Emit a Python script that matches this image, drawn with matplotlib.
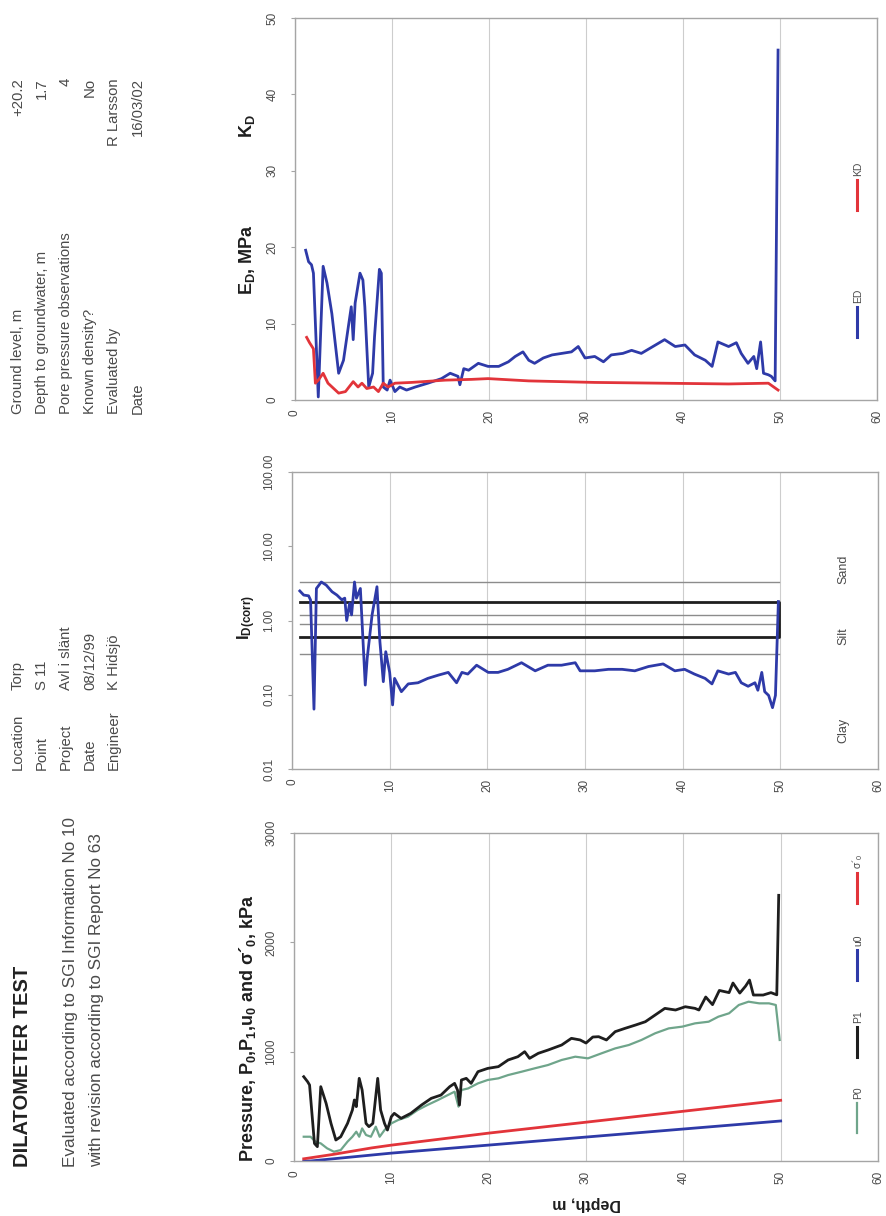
import matplotlib
matplotlib.use('Agg')
import matplotlib.pyplot as plt
from matplotlib.lines import Line2D

plt.rcParams['font.family'] = ['Liberation Sans', 'DejaVu Sans']
plt.rcParams['mathtext.fontset'] = 'custom'
plt.rcParams['mathtext.rm'] = 'Liberation Sans'
plt.rcParams['mathtext.bf'] = 'Liberation Sans:bold'
plt.rcParams['mathtext.it'] = 'Liberation Sans:italic'

# --- data (depth in m) ---
ed_depth = [1.1, 1.4, 1.7, 1.9, 2.4, 2.9, 3.3, 3.8, 4.5, 5.0, 5.5, 5.8, 6.0, 6.2, 6.7,
            7.0, 7.2, 7.6, 8.0, 8.2, 8.7, 8.9, 9.1, 9.5, 9.8, 10.3, 10.8, 11.5, 12.4, 13.7,
            15.1, 16.0, 16.8, 17.0, 17.4, 17.9, 18.9, 19.9, 21.0, 22.0, 22.7, 23.5, 24.1, 24.7, 25.6,
            26.5, 27.5, 28.5, 29.2, 29.9, 30.9, 31.8, 32.6, 33.8, 34.7, 35.7, 36.9, 38.1, 39.2, 40.2,
            41.2, 42.3, 43.0, 43.6, 44.7, 45.5, 46.0, 46.7, 47.3, 47.6, 48.0, 48.3, 48.8, 49.1, 49.5, 49.8]
ed_val = [19.6, 18.1, 17.7, 16.6, 0.4, 17.5, 15.3, 11.3, 3.5, 5.2, 9.6, 12.2, 7.9, 12.7, 16.6,
          15.7, 12.2, 1.7, 3.5, 8.3, 17.1, 16.6, 1.7, 1.3, 2.6, 1.1, 1.7, 1.3, 1.7, 2.2,
          2.8, 3.5, 3.1, 2.0, 4.1, 3.9, 4.8, 4.4, 4.4, 5.0, 5.7, 6.3, 5.2, 4.8, 5.5,
          5.9, 6.1, 6.3, 7.0, 5.5, 5.7, 5.0, 5.9, 6.1, 6.5, 6.1, 7.0, 7.9, 7.0, 7.2,
          5.9, 5.2, 4.4, 7.6, 7.0, 7.5, 6.1, 4.8, 5.7, 4.1, 7.6, 3.5, 3.3, 3.1, 2.5, 45.8]

kd_depth = [1.2, 1.5, 1.9, 2.1, 2.4, 2.9, 3.4, 4.5, 5.2, 6.0, 6.5, 6.9, 7.4, 8.1, 8.6,
            9.1, 9.6, 10.3, 12.0, 15.5, 18.2, 19.9, 24.1, 30.9, 37.8, 44.7, 48.8, 49.8]
kd_val = [8.2, 7.5, 6.7, 2.2, 2.6, 3.5, 2.2, 0.9, 1.1, 2.4, 1.7, 2.2, 1.5, 1.7, 1.1,
          2.2, 1.7, 2.2, 2.3, 2.6, 2.7, 2.8, 2.5, 2.3, 2.2, 2.1, 2.2, 1.3]

id_depth = [0.8, 1.2, 1.7, 1.9, 2.25, 2.5, 3.0, 3.5, 4.1, 4.6, 5.1, 5.4, 5.6, 5.9, 6.1,
            6.4, 6.6, 7.0, 7.5, 7.7, 8.2, 8.7, 9.0, 9.35, 9.6, 10.0, 10.3, 10.5, 11.2, 11.9,
            12.9, 13.9, 15.0, 16.0, 16.85, 17.4, 18.0, 18.9, 20.1, 21.1, 22.1, 23.5, 24.9, 26.2, 27.6,
            29.0, 29.5, 31.0, 32.4, 33.8, 35.1, 36.5, 38.0, 39.2, 40.2, 41.2, 42.3, 43.0, 43.6, 44.7,
            45.4, 46.0, 46.7, 47.4, 47.7, 48.1, 48.4, 48.8, 49.2, 49.5, 49.8]
id_val = [2.5, 2.2, 2.15, 1.89, 0.064, 2.7, 3.3, 3.0, 2.44, 2.2, 1.9, 2.0, 1.0, 1.7, 1.19,
          3.3, 2.0, 2.7, 0.135, 0.31, 1.19, 2.85, 0.52, 0.15, 0.38, 0.2, 0.073, 0.166, 0.11, 0.14,
          0.145, 0.166, 0.184, 0.2, 0.145, 0.2, 0.19, 0.25, 0.2, 0.2, 0.22, 0.27, 0.21, 0.25, 0.25,
          0.27, 0.21, 0.21, 0.22, 0.22, 0.21, 0.24, 0.26, 0.21, 0.22, 0.19, 0.166, 0.14, 0.21, 0.19,
          0.2, 0.145, 0.13, 0.145, 0.115, 0.2, 0.11, 0.098, 0.067, 0.098, 1.8]

# soil type boundaries for I_D
bound_depth = [0.8, 49.9]
thin_bounds = [0.35, 0.9, 1.2, 3.3]
thick_bounds = [0.6, 1.8]
soil_names = ['Clay', 'Silt', 'Sand']

p1_depth = [1.0, 1.4, 1.6, 2.1, 2.4, 2.75, 3.3, 3.8, 4.3, 4.8, 5.5, 6.0, 6.2, 6.4, 6.7,
            7.0, 7.4, 7.7, 8.1, 8.6, 8.9, 9.3, 9.6, 10.0, 10.3, 11.0, 12.0, 13.1, 14.1, 15.1,
            16.0, 16.5, 16.8, 17.0, 17.2, 17.7, 18.2, 18.9, 19.9, 21.0, 22.0, 23.0, 23.7, 24.2, 25.1,
            26.1, 27.5, 28.5, 29.4, 30.0, 30.7, 31.3, 32.1, 33.0, 34.0, 35.1, 36.1, 37.1, 38.1, 39.2,
            40.2, 41.2, 41.6, 42.3, 43.0, 43.7, 44.7, 45.1, 45.8, 46.4, 46.8, 47.2, 48.2, 49.0, 49.6, 49.8]
p1_val = [771, 725, 695, 161, 131, 680, 527, 344, 192, 222, 344, 466, 558, 497, 756,
          649, 344, 314, 344, 756, 466, 344, 283, 405, 436, 390, 436, 512, 573, 603,
          680, 710, 649, 512, 741, 756, 710, 817, 847, 863, 924, 954, 1000, 939, 985,
          1015, 1061, 1122, 1107, 1079, 1134, 1137, 1107, 1183, 1213, 1244, 1274, 1335, 1396, 1381,
          1411, 1396, 1381, 1500, 1430, 1560, 1540, 1628, 1536, 1600, 1655, 1518, 1518, 1540, 1520, 2430]

p0_depth = [1.0, 1.7, 2.2, 2.75, 3.4, 4.1, 4.8, 5.5, 6.0, 6.4, 6.7, 7.0, 7.4, 7.9, 8.4,
            8.8, 9.3, 10.0, 10.7, 11.7, 12.7, 13.7, 14.8, 15.8, 16.5, 16.9, 17.2, 17.9, 18.9, 19.9,
            21.0, 22.0, 23.4, 24.7, 26.1, 27.5, 28.9, 30.2, 31.6, 33.0, 34.4, 35.7, 37.1, 38.5, 39.9,
            41.2, 42.6, 43.6, 44.7, 45.7, 46.7, 47.8, 48.8, 49.5, 49.9]
p0_val = [222, 222, 177, 161, 116, 85, 100, 177, 222, 268, 222, 298, 238, 222, 314,
          222, 283, 344, 375, 405, 466, 512, 558, 603, 634, 497, 649, 664, 710, 741,
          756, 786, 817, 847, 878, 924, 954, 939, 985, 1030, 1061, 1107, 1168, 1213, 1229,
          1259, 1274, 1320, 1351, 1427, 1457, 1442, 1442, 1427, 1107]

u0_depth = [1.0, 1.7, 10.0, 50.0]
u0_val = [0, 0, 72, 366]

sig_depth = [1.0, 4.0, 8.0, 10.0, 20.0, 50.0]
sig_val = [20, 60, 120, 145, 255, 555]

info_labels = ['Location', 'Point', 'Project', 'Date', 'Engineer']
info_values = ['Torp', 'S 11', 'Avl i slänt', '08/12/99', 'K Hidsjö']
site_labels = ['Ground level, m', 'Depth to groundwater, m', 'Pore pressure observations',
               'Known density?', 'Evaluated by', 'Date']
site_values = ['+20.2', '1.7', '4', 'No', 'R Larsson', '16/03/02']

C_BLUE = '#2e3aa8'
C_RED = '#e2343a'
C_BLACK = '#1e1e1e'
C_GREEN = '#6fa58b'
C_TXT = '#4a4a4a'

W, H = 886, 1216
fig = plt.figure(figsize=(W / 100, H / 100), dpi=100)


def box(x0, y0, x1, y1):
    # pixel box (top-left origin) -> figure fraction
    return [x0 / W, 1 - y1 / H, (x1 - x0) / W, (y1 - y0) / H]


def ftext(x, y, s, **kw):
    return fig.text(x / W, 1 - y / H, s, **kw)


def vtext(x, y, s, **kw):
    # text rotated 90 deg, starting at (x, y)
    kw.setdefault('ha', 'left')
    return ftext(x, y, s, rotation=90, rotation_mode='anchor', va='center', **kw)


def legend_mark(x, y_top, y_bot, color, label, lw=2.2):
    fig.add_artist(Line2D([x / W, x / W], [1 - y_bot / H, 1 - y_top / H],
                          transform=fig.transFigure, color=color, lw=lw))
    vtext(x + 1, y_top - 4, label, fontsize=7.5, color=C_TXT)


def style_panel(ax):
    ax.set_xlim(0, 60)
    ax.set_xticks(range(0, 61, 10))
    ax.grid(axis='x', color='#cdcdcd', lw=0.8)
    ax.set_axisbelow(True)
    for s in ax.spines.values():
        s.set_color('#a5a5a5')
        s.set_linewidth(1.0)
    ax.tick_params(axis='x', length=0, pad=7, labelsize=8.5, labelcolor=C_TXT, labelrotation=90)
    ax.tick_params(axis='y', which='major', length=3, direction='out', color='#a5a5a5',
                   pad=9, labelsize=8.5, labelcolor=C_TXT, labelrotation=90)
    ax.tick_params(axis='y', which='minor', length=0)
    for lab in ax.get_yticklabels():
        lab.set_va('center')


# --- E_D / K_D panel ---
ax1 = fig.add_axes(box(295, 18, 877, 400))
ax1.plot(ed_depth, ed_val, color=C_BLUE, lw=2.0)
ax1.plot(kd_depth, kd_val, color=C_RED, lw=2.0)
ax1.set_ylim(0, 50)
ax1.set_yticks(range(0, 51, 10))
style_panel(ax1)

# --- I_D panel ---
ax2 = fig.add_axes(box(292, 472, 878, 769))
for b in thin_bounds:
    ax2.plot(bound_depth, [b, b], color='#8c8c8c', lw=1.0)
d0, d1 = bound_depth
lo, hi = thick_bounds
ax2.plot([d0, d1, d1, d0], [hi, hi, lo, lo], color=C_BLACK, lw=2.0)
ax2.plot(id_depth, id_val, color=C_BLUE, lw=2.0)
ax2.set_yscale('log')
ax2.set_ylim(0.01, 100)
ax2.set_yticks([0.01, 0.1, 1, 10, 100])
ax2.set_yticklabels(['0.01', '0.10', '1.00', '10.00', '100.00'])
style_panel(ax2)

# --- pressure panel ---
ax3 = fig.add_axes(box(294, 833, 878, 1161))
ax3.plot(p0_depth, p0_val, color=C_GREEN, lw=1.6)
ax3.plot(p1_depth, p1_val, color=C_BLACK, lw=2.0)
ax3.plot(u0_depth, u0_val, color=C_BLUE, lw=2.0)
ax3.plot(sig_depth, sig_val, color=C_RED, lw=2.0)
ax3.set_ylim(0, 3000)
ax3.set_yticks(range(0, 3001, 1000))
style_panel(ax3)

# --- axis titles ---
vtext(247, 1162, r'Pressure, P$_\mathbf{0}$,P$_\mathbf{1}$,u$_\mathbf{0}$ and σ´$_\mathbf{0}$, kPa',
      fontsize=13, fontweight='bold', color=C_BLACK)
vtext(247, 617, r'I$_\mathbf{D(corr)}$', fontsize=12, fontweight='bold', color=C_BLACK, ha='center')
vtext(247, 260, r'E$_\mathbf{D}$, MPa', fontsize=13, fontweight='bold', color=C_BLACK, ha='center')
vtext(247, 126, r'K$_\mathbf{D}$', fontsize=13, fontweight='bold', color=C_BLACK, ha='center')
ftext(587, 1203, 'Depth, m', rotation=180, ha='center', va='center', fontsize=11.5,
      fontweight='bold', color=C_BLACK)

# soil classes
for name, yc in zip(soil_names, [730, 636, 569]):
    vtext(843, yc, name, fontsize=9, color=C_TXT, ha='center')

# legends
legend_mark(857, 1103, 1133, C_GREEN, 'P0', lw=1.6)
legend_mark(857, 1027, 1057, C_BLACK, 'P1')
legend_mark(857, 950, 980, C_BLUE, 'u0')
legend_mark(857, 873, 903, C_RED, r'σ´$_0$')
legend_mark(857, 307, 337, C_BLUE, 'ED')
legend_mark(857, 180, 210, C_RED, 'KD')

# --- header block ---
vtext(22, 1167, 'DILATOMETER TEST', fontsize=14.5, fontweight='bold', color='#222222')
vtext(70, 1167, 'Evaluated according to SGI Information No 10', fontsize=12.3, color=C_TXT)
vtext(97, 1167, 'with revision according to SGI Report No 63', fontsize=12.3, color=C_TXT)

rows_x = [18, 42, 66, 90, 114, 138]
for xr, lab, val in zip(rows_x, info_labels, info_values):
    vtext(xr, 770, lab, fontsize=10.7, color=C_TXT)
    vtext(xr, 690, val, fontsize=10.7, color=C_TXT)
for xr, lab, val in zip(rows_x, site_labels, site_values):
    vtext(xr, 414, lab, fontsize=10.7, color=C_TXT)
    vtext(xr, 78, val, fontsize=10.7, color=C_TXT, ha='right')

fig.savefig('out.png', dpi=100)
